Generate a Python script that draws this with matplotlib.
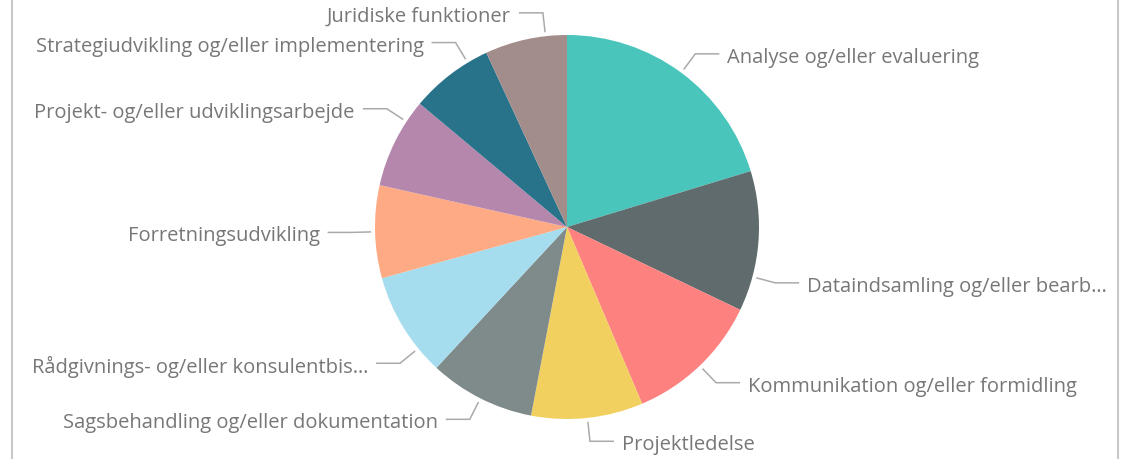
import matplotlib
matplotlib.use("Agg")
import matplotlib.pyplot as plt
import numpy as np

# ---- data ----
categories = [
    "Analyse og/eller evaluering",
    "Dataindsamling og/eller bearbejdning",
    "Kommunikation og/eller formidling",
    "Projektledelse",
    "Sagsbehandling og/eller dokumentation",
    "Rådgivnings- og/eller konsulentbistand",
    "Forretningsudvikling",
    "Projekt- og/eller udviklingsarbejde",
    "Strategiudvikling og/eller implementering",
    "Juridiske funktioner",
]
display_labels = [
    "Analyse og/eller evaluering",
    "Dataindsamling og/eller bearb…",
    "Kommunikation og/eller formidling",
    "Projektledelse",
    "Sagsbehandling og/eller dokumentation",
    "Rådgivnings- og/eller konsulentbis…",
    "Forretningsudvikling",
    "Projekt- og/eller udviklingsarbejde",
    "Strategiudvikling og/eller implementering",
    "Juridiske funktioner",
]
values = [20.3, 11.8, 11.5, 9.4, 8.9, 8.8, 7.8, 7.6, 7.0, 6.9]

# ---- style ----
colors = ["#4AC5BB", "#5F6B6D", "#FD817E", "#F2D05F", "#7F8A8A",
          "#A5DDEE", "#FEAB85", "#B687AC", "#28738A", "#A38D8A"]
leader_shift = [0, -10.7, 0, 0, 0, 7.9, 0, -7.0, -6.3, -6.0]  # degrees

W, H = 1130, 460
fig = plt.figure(figsize=(W / 100, H / 100), dpi=100)
ax = fig.add_axes([0, 0, 1, 1])

cx, cy, R = 567, H - 228, 192
wedges, _ = ax.pie(values, colors=colors, startangle=90, counterclock=False,
                   center=(cx, cy), radius=R, frame=True,
                   wedgeprops=dict(linewidth=0))
ax.set_xlim(0, W)
ax.set_ylim(0, H)
ax.axis("off")

line_col = "#AAAAAA"
text_col = "#777777"
for w, lab, sh in zip(wedges, display_labels, leader_shift):
    mid = 0.5 * (w.theta1 + w.theta2) + sh
    a = np.deg2rad(mid)
    x0, y0 = cx + (R + 4) * np.cos(a), cy + (R + 4) * np.sin(a)
    x1, y1 = cx + (R + 23.5) * np.cos(a), cy + (R + 23.5) * np.sin(a)
    side = 1 if np.cos(a) >= 0 else -1
    x2 = x1 + side * 24
    ax.plot([x0, x1, x2], [y0, y1, y1], color=line_col, lw=1.1,
            solid_capstyle="butt", solid_joinstyle="miter")
    ax.text(x2 + side * 8, y1 - 3, lab, ha="left" if side > 0 else "right",
            va="center", fontsize=14.5, color=text_col, family="Open Sans")

# card borders
ax.plot([11.5, 11.5], [0, H], color="#C8C8C8", lw=1.5)
ax.plot([1117.5, 1117.5], [0, H], color="#C8C8C8", lw=1.5)

fig.savefig("out.png", dpi=100, facecolor="white")
